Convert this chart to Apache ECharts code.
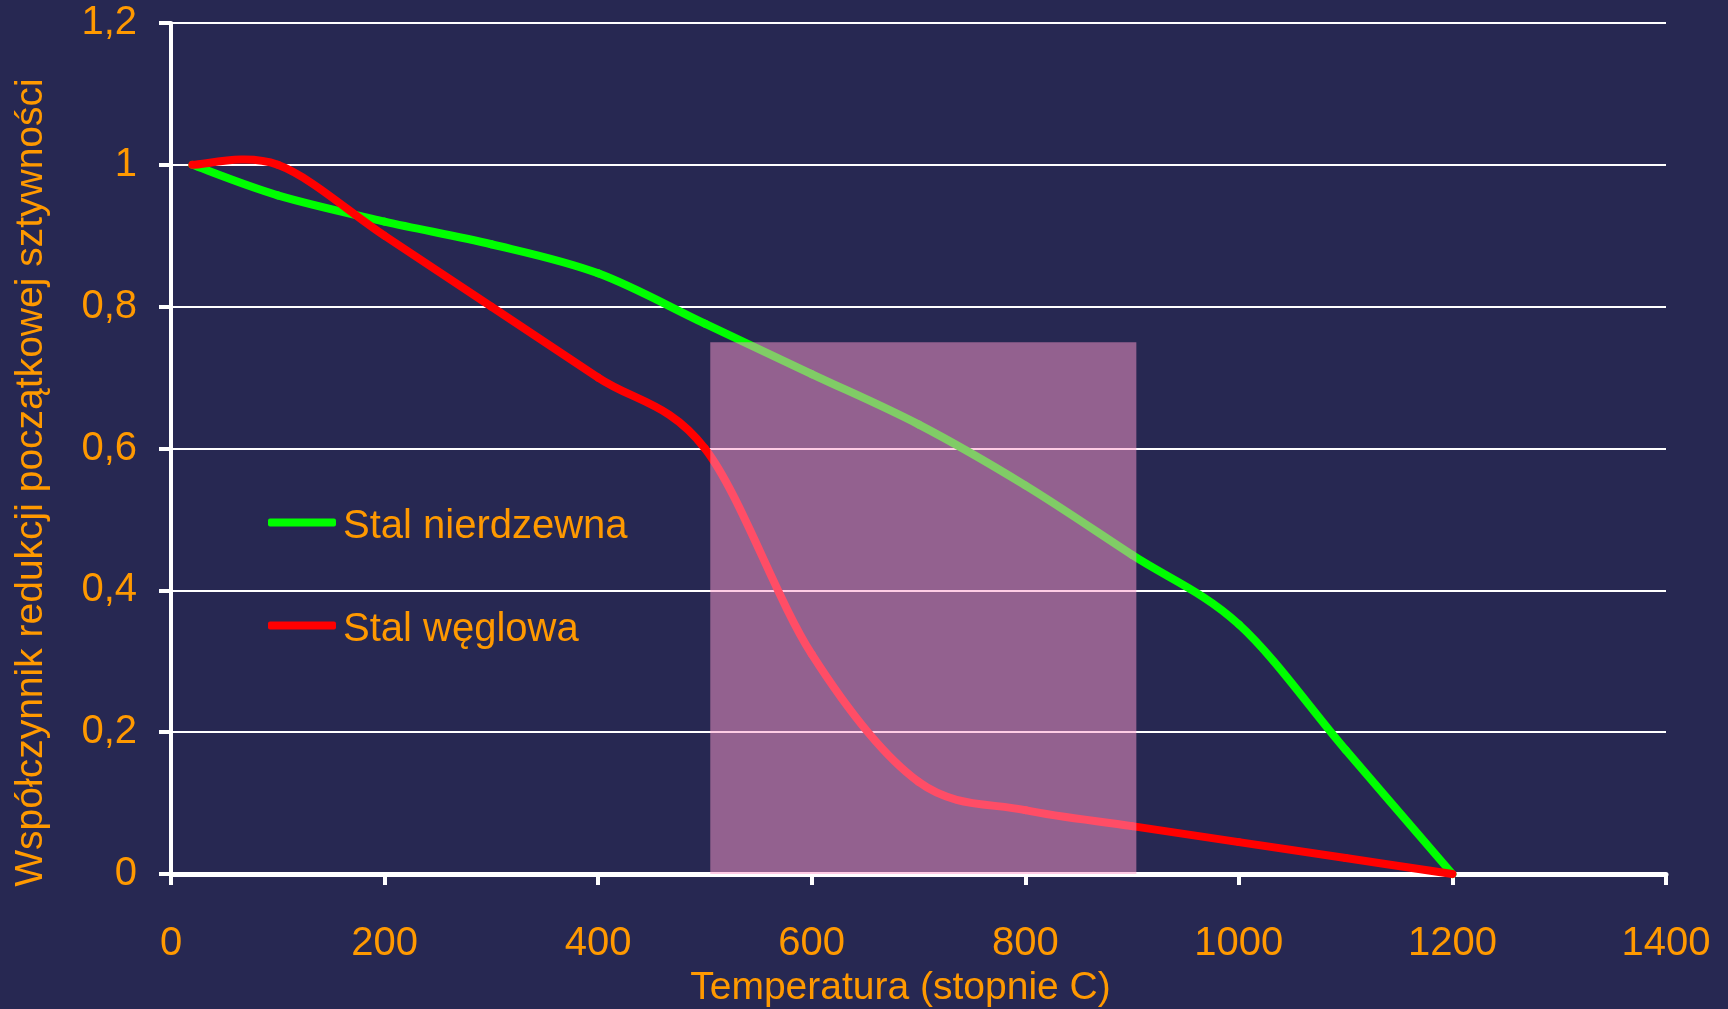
<!DOCTYPE html>
<html>
<head>
<meta charset="utf-8">
<script src="https://cdn.jsdelivr.net/npm/echarts@6/dist/echarts.min.js"></script>
<style>
html,body{margin:0;padding:0;background:#272852;}
#chart{width:1728px;height:1009px;}
</style>
</head>
<body>
<div id="chart"></div>
<script>
// ---- data ----
const temperatures = [20, 100, 200, 300, 400, 500, 600, 700, 800, 900, 1000, 1100, 1200];
const stainlessSteel = [1.0, 0.957, 0.92, 0.888, 0.847, 0.776, 0.705, 0.634, 0.548, 0.45, 0.352, 0.175, 0];
const carbonSteel = [1.0, 1.0, 0.9, 0.8, 0.7, 0.6, 0.31, 0.13, 0.09, 0.0675, 0.045, 0.0225, 0];
const seriesNames = ['Stal nierdzewna', 'Stal węglowa'];
const seriesColors = ['#00FF00', '#FF0000'];
const xTickLabels = ['0', '200', '400', '600', '800', '1000', '1200', '1400'];
const yTickLabels = ['0', '0,2', '0,4', '0,6', '0,8', '1', '1,2'];
const bandTemperature = [505, 904];
const bandValue = [0, 0.75];
const xAxisTitle = 'Temperatura (stopnie C)';
const yAxisTitle = 'Współczynnik redukcji początkowej sztywności';

const FONT = '"Liberation Sans", Arial, sans-serif';
const ORANGE = '#FF9900';
const LINE_W = 8;

const chart = echarts.init(document.getElementById('chart'));
const toPairs = (xs, ys) => xs.map((x, i) => [x, ys[i]]);

// Spreadsheet-style smoothed line: each data item draws the cubic Bezier segment
// from its point to the next one (Catmull-Rom handles, 1/6 of neighbour span),
// with every point mapped through the chart's own axes (api.coord).
function smoothSeries(name, color, values, z) {
  const pts = toPairs(temperatures, values);
  return {
    name: name,
    type: 'custom',
    z: z,
    itemStyle: { color: color },
    data: pts,
    encode: { x: 0, y: 1 },
    renderItem: (params, api) => {
      const i = params.dataIndex;
      const n = pts.length;
      if (i >= n - 1) return null;
      const c = (k) => api.coord(pts[Math.max(0, Math.min(n - 1, k))]);
      const p0 = c(i - 1), p1 = c(i), p2 = c(i + 1), p3 = c(i + 2);
      return {
        type: 'bezierCurve',
        shape: {
          x1: p1[0], y1: p1[1],
          cpx1: p1[0] + (p2[0] - p0[0]) / 6, cpy1: p1[1] + (p2[1] - p0[1]) / 6,
          cpx2: p2[0] - (p3[0] - p1[0]) / 6, cpy2: p2[1] - (p3[1] - p1[1]) / 6,
          x2: p2[0], y2: p2[1]
        },
        style: { stroke: color, fill: null, lineWidth: LINE_W, lineCap: 'round', lineJoin: 'round' }
      };
    }
  };
}

chart.setOption({
  backgroundColor: '#272852',
  animation: false,
  grid: { left: 171, right: 62, top: 23, bottom: 135, containLabel: false, outerBoundsMode: 'none' },
  legend: {
    data: seriesNames,
    orient: 'vertical',
    left: 263,
    top: 493,
    itemWidth: 68,
    itemHeight: 8,
    itemGap: 54,
    icon: 'roundRect',
    formatter: '{t|{name}}',
    textStyle: {
      color: ORANGE, fontSize: 40, fontFamily: FONT,
      rich: { t: { color: ORANGE, fontSize: 40, fontFamily: FONT, lineHeight: 40, padding: [9, 0, 0, 2] } }
    }
  },
  xAxis: {
    type: 'value',
    min: 0, max: 1400, interval: 200,
    name: xAxisTitle,
    nameLocation: 'middle',
    nameGap: 90,
    nameTextStyle: { color: ORANGE, fontSize: 39, fontFamily: FONT, padding: [0, 36, 0, 0] },
    axisLine: { show: true, onZero: false, lineStyle: { color: '#ffffff', width: 5 } },
    axisTick: { show: true, inside: false, length: 11, lineStyle: { color: '#ffffff', width: 4 } },
    axisLabel: {
      color: ORANGE, fontSize: 40, fontFamily: FONT, margin: 50,
      formatter: (v) => xTickLabels[Math.round(v / 200)]
    },
    splitLine: { show: false }
  },
  yAxis: {
    type: 'value',
    min: 0, max: 1.2, interval: 0.2,
    name: yAxisTitle,
    nameLocation: 'middle',
    nameRotate: 90,
    nameGap: 120,
    nameTextStyle: { color: ORANGE, fontSize: 39, fontFamily: FONT, padding: [0, 68, 0, 0] },
    axisLine: { show: true, lineStyle: { color: '#ffffff', width: 4 } },
    axisTick: { show: true, inside: false, length: 12, lineStyle: { color: '#ffffff', width: 4 } },
    axisLabel: {
      color: ORANGE, fontSize: 40, fontFamily: FONT, margin: 34,
      formatter: (v) => yTickLabels[Math.round(v / 0.2)]
    },
    splitLine: { show: true, lineStyle: { color: '#ffffff', width: 2 } }
  },
  series: [
    smoothSeries(seriesNames[0], seriesColors[0], stainlessSteel, 2),
    smoothSeries(seriesNames[1], seriesColors[1], carbonSteel, 3),
    {
      name: 'band',
      type: 'custom',
      silent: true,
      z: 5,
      data: [[bandTemperature[0], bandValue[0], bandTemperature[1], bandValue[1]]],
      encode: { x: [0, 2], y: [1, 3] },
      renderItem: (params, api) => {
        const p1 = api.coord([api.value(0), api.value(3)]);
        const p2 = api.coord([api.value(2), api.value(1)]);
        return {
          type: 'rect',
          shape: { x: p1[0], y: p1[1], width: p2[0] - p1[0], height: p2[1] - p1[1] },
          style: { fill: 'rgba(255,153,204,0.5)' }
        };
      }
    }
  ]
});
</script>
</body>
</html>
